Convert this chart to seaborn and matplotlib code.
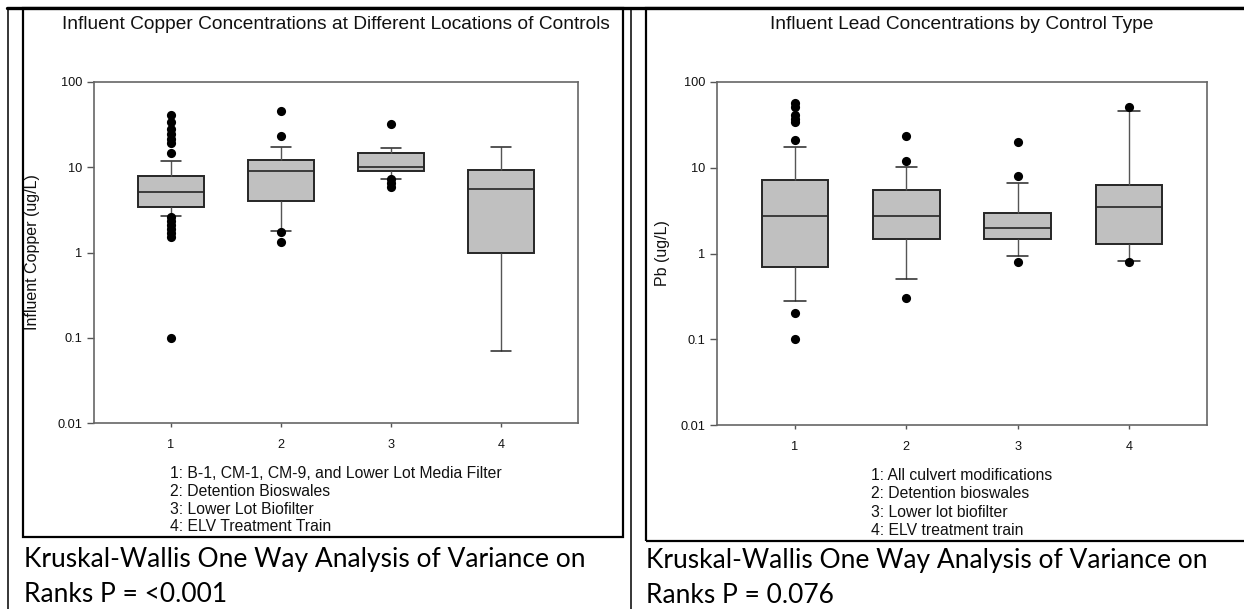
import matplotlib
matplotlib.use("Agg")
import matplotlib.pyplot as plt
from matplotlib.lines import Line2D
from matplotlib.patches import Rectangle
from matplotlib.ticker import FixedLocator, FixedFormatter, NullLocator
import pandas as pd
import seaborn as sns

# Control groups on the x axis
sites = ["1", "2", "3", "4"]

# Influent copper (ug/L): box summaries per control group
cu_whisker_low = [2.7, 1.78, 7.3, 0.07]
cu_q1 = [3.42, 4.05, 9.0, 1.0]
cu_median = [5.17, 8.96, 10.07, 5.6]
cu_q3 = [7.96, 12.2, 14.7, 9.37]
cu_whisker_high = [11.9, 17.4, 17.0, 17.2]
cu_outliers = [
    [41.0, 33.9, 28.3, 24.8, 21.7, 19.3, 14.6, 2.61, 2.34, 2.10, 1.89, 1.69, 1.53, 0.10],
    [45.7, 23.3, 1.75, 1.32],
    [32.4, 7.2, 6.6, 5.9],
    [],
]

# Influent lead (ug/L): box summaries per control type
pb_whisker_low = [0.28, 0.51, 0.935, 0.82]
pb_q1 = [0.70, 1.49, 1.49, 1.30]
pb_median = [2.76, 2.72, 1.98, 3.51]
pb_q3 = [7.2, 5.46, 2.94, 6.29]
pb_whisker_high = [17.6, 10.3, 6.7, 45.9]
pb_outliers = [
    [56.4, 51.5, 41.2, 36.7, 34.4, 21.1, 0.20, 0.10],
    [23.3, 12.1, 0.305],
    [20.1, 8.0, 0.80],
    [50.7, 0.80],
]

y_ticks = [0.01, 0.1, 1, 10, 100]
y_tick_labels = ["0.01", "0.1", "1", "10", "100"]

cu_legend = ["1: B-1, CM-1, CM-9, and Lower Lot Media Filter",
             "2: Detention Bioswales",
             "3: Lower Lot Biofilter",
             "4: ELV Treatment Train"]
pb_legend = ["1: All culvert modifications",
             "2: Detention bioswales",
             "3: Lower lot biofilter",
             "4: ELV treatment train"]

cu_title = "Influent Copper Concentrations at Different Locations of Controls"
pb_title = "Influent Lead Concentrations by Control Type"
cu_ylabel = "Influent Copper (ug/L)"
pb_ylabel = "Pb (ug/L)"
cu_caption = ["Kruskal-Wallis One Way Analysis of Variance on", "Ranks P = <0.001"]
pb_caption = ["Kruskal-Wallis One Way Analysis of Variance on", "Ranks P = 0.076"]

sns.set_theme(style="ticks")
plt.rcParams["font.family"] = ["Liberation Sans", "DejaVu Sans"]

W, H = 1244, 609
fig = plt.figure(figsize=(W / 100, H / 100), dpi=100)
fig.patch.set_facecolor("white")


def fx(x):
    return x / W


def fy(y):
    return 1 - y / H


def five_number_frame(lo, q1, med, q3, hi):
    rows = []
    for site, vals in zip(sites, zip(lo, q1, med, q3, hi)):
        rows.extend((site, v) for v in vals)
    return pd.DataFrame(rows, columns=["site", "value"])


def outlier_frame(outliers):
    rows = []
    for site, vals in zip(sites, outliers):
        rows.extend((site, v) for v in vals)
    return pd.DataFrame(rows, columns=["site", "value"])


def draw_panel(ax, boxes, outliers, title, ylabel, ylabel_x):
    sns.boxplot(data=boxes, x="site", y="value", order=sites, whis=(0, 100),
                width=0.6, log_scale=True, color="#c0c0c0", saturation=1,
                linecolor="#262626", linewidth=1.4, showfliers=False,
                capwidths=0.19, ax=ax,
                whiskerprops=dict(color="#555555", linewidth=1.0),
                capprops=dict(color="#262626", linewidth=1.1),
                medianprops=dict(color="#262626", linewidth=1.2))
    sns.stripplot(data=outliers, x="site", y="value", order=sites,
                  jitter=False, color="black", size=6.6, log_scale=True,
                  ax=ax, zorder=4)
    ax.set_xlim(-0.7, 3.7)
    ax.set_ylim(0.01, 100)
    ax.yaxis.set_major_locator(FixedLocator(y_ticks))
    ax.yaxis.set_major_formatter(FixedFormatter(y_tick_labels))
    ax.yaxis.set_minor_locator(NullLocator())
    ax.tick_params(axis="y", direction="out", length=5, width=1.0,
                   color="#555555", pad=3.5, labelsize=9.2, labelcolor="#111111")
    ax.tick_params(axis="x", direction="out", length=3, width=1.0,
                   color="#555555", pad=8.5, labelsize=9.2, labelcolor="#111111")
    for side, spine in ax.spines.items():
        spine.set_visible(True)
        spine.set_color("#666666")
        spine.set_linewidth(1.2)
    ax.set_xlabel("")
    ax.set_ylabel(ylabel, fontsize=11.5, color="#111111")
    ax.yaxis.set_label_coords(ylabel_x, 0.5)
    ax.set_title(title, fontsize=13.8, color="#111111", pad=38)


ax_cu = fig.add_axes([fx(94), fy(423), fx(578) - fx(94), fy(82) - fy(423)])
draw_panel(ax_cu,
           five_number_frame(cu_whisker_low, cu_q1, cu_median, cu_q3, cu_whisker_high),
           outlier_frame(cu_outliers), cu_title, cu_ylabel, -0.111)

ax_pb = fig.add_axes([fx(717), fy(425), fx(1207) - fx(717), fy(82) - fy(425)])
draw_panel(ax_pb,
           five_number_frame(pb_whisker_low, pb_q1, pb_median, pb_q3, pb_whisker_high),
           outlier_frame(pb_outliers), pb_title, pb_ylabel, -0.095)

# Group descriptions under each chart
for i, line in enumerate(cu_legend):
    fig.text(fx(170), fy(478 + 17.8 * i), line, fontsize=11.3, color="#111111",
             ha="left", va="baseline")
for i, line in enumerate(pb_legend):
    fig.text(fx(871), fy(480 + 18.3 * i), line, fontsize=11.3, color="#111111",
             ha="left", va="baseline")

# Statistical test notes below the charts
for i, line in enumerate(cu_caption):
    fig.text(fx(24), fy(567 + 35 * i), line, fontsize=19, color="black",
             family=["Lato", "DejaVu Sans"], ha="left", va="baseline")
for i, line in enumerate(pb_caption):
    fig.text(fx(646), fy(568 + 35 * i), line, fontsize=19, color="black",
             family=["Lato", "DejaVu Sans"], ha="left", va="baseline")

# Page table frame and chart borders
frame = dict(color="black", transform=fig.transFigure)
fig.add_artist(Line2D([fx(7), fx(1244)], [fy(8), fy(8)], linewidth=2.4, **frame))
fig.add_artist(Line2D([fx(8), fx(8)], [fy(8), fy(609)], linewidth=1.1, **frame))
fig.add_artist(Line2D([fx(631), fx(631)], [fy(8), fy(609)], linewidth=1.1, **frame))
fig.add_artist(Rectangle((fx(23), fy(537)), fx(623) - fx(23), fy(8) - fy(537),
                         fill=False, linewidth=1.6, edgecolor="black",
                         transform=fig.transFigure))
fig.add_artist(Rectangle((fx(646), fy(541)), fx(1260) - fx(646), fy(8) - fy(541),
                         fill=False, linewidth=1.6, edgecolor="black",
                         transform=fig.transFigure))

fig.savefig("out.png", dpi=100, facecolor="white")
